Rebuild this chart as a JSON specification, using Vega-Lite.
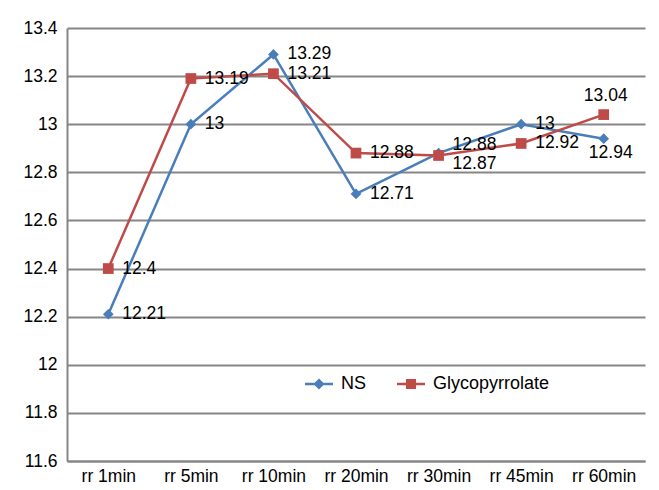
{
  "$schema": "https://vega.github.io/schema/vega-lite/v6.json",
  "width": 578,
  "height": 433,
  "autosize": {"type": "none"},
  "padding": {"left": 67, "top": 28, "right": 14, "bottom": 29},
  "background": "white",
  "data": {
    "values": [
      {"series": "NS", "time": "rr 1min", "rate": 12.21},
      {"series": "NS", "time": "rr 5min", "rate": 13},
      {"series": "NS", "time": "rr 10min", "rate": 13.29},
      {"series": "NS", "time": "rr 20min", "rate": 12.71},
      {"series": "NS", "time": "rr 30min", "rate": 12.88},
      {"series": "NS", "time": "rr 45min", "rate": 13},
      {"series": "NS", "time": "rr 60min", "rate": 12.94},
      {"series": "Glycopyrrolate", "time": "rr 1min", "rate": 12.4},
      {"series": "Glycopyrrolate", "time": "rr 5min", "rate": 13.19},
      {"series": "Glycopyrrolate", "time": "rr 10min", "rate": 13.21},
      {"series": "Glycopyrrolate", "time": "rr 20min", "rate": 12.88},
      {"series": "Glycopyrrolate", "time": "rr 30min", "rate": 12.87},
      {"series": "Glycopyrrolate", "time": "rr 45min", "rate": 12.92},
      {"series": "Glycopyrrolate", "time": "rr 60min", "rate": 13.04}
    ]
  },
  "encoding": {
    "x": {
      "field": "time",
      "type": "ordinal",
      "sort": ["rr 1min", "rr 5min", "rr 10min", "rr 20min", "rr 30min", "rr 45min", "rr 60min"],
      "scale": {"type": "point", "padding": 0.5},
      "axis": {"title": null, "labelAngle": 0, "grid": false, "ticks": false, "labelPadding": 6}
    },
    "y": {
      "field": "rate",
      "type": "quantitative",
      "scale": {"domain": [11.6, 13.4], "zero": false, "nice": false},
      "axis": {
        "title": null,
        "values": [11.6, 11.8, 12, 12.2, 12.4, 12.6, 12.8, 13, 13.2, 13.4],
        "format": "~g",
        "grid": true,
        "ticks": false,
        "labelPadding": 10
      }
    }
  },
  "layer": [
    {
      "mark": {"type": "line", "strokeWidth": 2.5},
      "encoding": {
        "detail": {"field": "series", "type": "nominal"},
        "color": {"condition": {"test": "datum.series === 'NS'", "value": "#4A7EBB"}, "value": "#BE4B48"}
      }
    },
    {
      "mark": {"type": "point", "filled": true, "opacity": 1, "size": 115},
      "encoding": {
        "color": {"condition": {"test": "datum.series === 'NS'", "value": "#4A7EBB"}, "value": "#BE4B48"},
        "shape": {"condition": {"test": "datum.series === 'NS'", "value": "diamond"}, "value": "square"}
      }
    },
    {
      "description": "Legend only: line-and-marker keys for the two series",
      "transform": [{"filter": "false"}],
      "mark": {"type": "point", "filled": true, "opacity": 1},
      "encoding": {
        "color": {
          "field": "series",
          "type": "nominal",
          "scale": {"domain": ["NS", "Glycopyrrolate"], "range": ["#4A7EBB", "#BE4B48"]},
          "legend": {
            "title": null,
            "orient": "none",
            "legendX": 238,
            "legendY": 342,
            "direction": "horizontal",
            "padding": 0,
            "symbolSize": 784,
            "symbolStrokeWidth": 0,
            "labelOffset": 8,
            "columnPadding": 30,
            "labelFontSize": 18,
            "labelFont": "Liberation Sans",
            "labelColor": "#000000"
          }
        },
        "shape": {
          "field": "series",
          "type": "nominal",
          "scale": {
            "domain": ["NS", "Glycopyrrolate"],
            "range": [
              "M-1,-0.09H1V0.09H-1Z M0,-0.4L0.4,0L0,0.4L-0.4,0Z",
              "M-1,-0.09H1V0.09H-1Z M-0.36,-0.36H0.36V0.36H-0.36Z"
            ]
          },
          "legend": {
            "title": null,
            "orient": "none",
            "legendX": 238,
            "legendY": 342,
            "direction": "horizontal",
            "padding": 0,
            "symbolSize": 784,
            "symbolStrokeWidth": 0,
            "labelOffset": 8,
            "columnPadding": 30,
            "labelFontSize": 18,
            "labelFont": "Liberation Sans",
            "labelColor": "#000000"
          }
        }
      }
    },
    {
      "transform": [{"filter": "datum.time !== 'rr 30min' && datum.time !== 'rr 60min'"}],
      "mark": {"type": "text", "align": "left", "baseline": "middle", "dx": 14, "fontSize": 17.5, "font": "Liberation Sans"},
      "encoding": {"text": {"field": "rate", "type": "quantitative", "format": "~g"}, "color": {"value": "#000000"}}
    },
    {
      "transform": [{"filter": "datum.time === 'rr 30min' && datum.series === 'NS'"}],
      "mark": {"type": "text", "align": "left", "baseline": "middle", "dx": 14, "dy": -8, "fontSize": 17.5, "font": "Liberation Sans"},
      "encoding": {"text": {"field": "rate", "type": "quantitative", "format": "~g"}, "color": {"value": "#000000"}}
    },
    {
      "transform": [{"filter": "datum.time === 'rr 30min' && datum.series === 'Glycopyrrolate'"}],
      "mark": {"type": "text", "align": "left", "baseline": "middle", "dx": 14, "dy": 9, "fontSize": 17.5, "font": "Liberation Sans"},
      "encoding": {"text": {"field": "rate", "type": "quantitative", "format": "~g"}, "color": {"value": "#000000"}}
    },
    {
      "transform": [{"filter": "datum.time === 'rr 60min' && datum.series === 'NS'"}],
      "mark": {"type": "text", "align": "center", "baseline": "middle", "dx": 7, "dy": 14, "fontSize": 17.5, "font": "Liberation Sans"},
      "encoding": {"text": {"field": "rate", "type": "quantitative", "format": "~g"}, "color": {"value": "#000000"}}
    },
    {
      "transform": [{"filter": "datum.time === 'rr 60min' && datum.series === 'Glycopyrrolate'"}],
      "mark": {"type": "text", "align": "center", "baseline": "middle", "dx": 2, "dy": -19, "fontSize": 17.5, "font": "Liberation Sans"},
      "encoding": {"text": {"field": "rate", "type": "quantitative", "format": "~g"}, "color": {"value": "#000000"}}
    }
  ],
  "config": {
    "view": {"stroke": null},
    "font": "Liberation Sans",
    "axis": {
      "gridColor": "#868686",
      "gridWidth": 2,
      "gridOpacity": 1,
      "domainColor": "#868686",
      "domainWidth": 2,
      "labelFont": "Liberation Sans",
      "labelFontSize": 17.5,
      "labelColor": "#000000"
    }
  }
}
